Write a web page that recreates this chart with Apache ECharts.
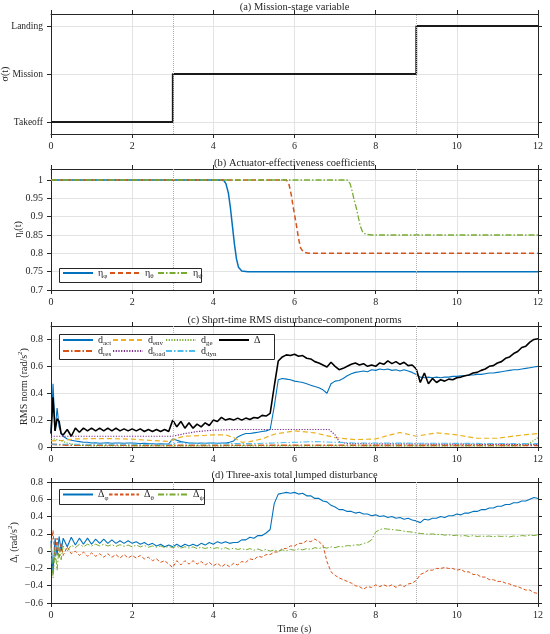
<!DOCTYPE html>
<html>
<head>
<meta charset="utf-8">
<script src="https://cdn.jsdelivr.net/npm/echarts@6/dist/echarts.min.js"></script>
<style>
html, body { margin: 0; padding: 0; background: #fff; }
#chart { width: 550px; height: 634px; }
</style>
</head>
<body>
<div id="chart"></div>
<script>
// ---- (a) mission stage ----
var stageEdges = [0, 3, 9, 12];
var stageLevel = [0, 1, 2, 2];
var stageNames = ['Takeoff', 'Mission', 'Landing'];

// ---- (b) actuator effectiveness [t, eta] ----
var etaPhi = [[0, 1], [4.25, 1], [4.31, 0.99], [4.37, 0.965], [4.42, 0.925], [4.47, 0.875], [4.52, 0.825], [4.57, 0.785], [4.62, 0.762], [4.7, 0.752], [4.85, 0.75], [12, 0.75]];
var etaTheta = [[0, 1], [5.8, 1], [5.86, 0.99], [5.92, 0.96], [5.97, 0.925], [6.01, 0.9], [6.05, 0.875], [6.1, 0.84], [6.15, 0.815], [6.22, 0.803], [6.35, 0.8], [12, 0.8]];
var etaPsi = [[0, 1], [7.3, 1], [7.37, 0.99], [7.42, 0.97], [7.47, 0.945], [7.52, 0.925], [7.57, 0.9], [7.62, 0.875], [7.67, 0.86], [7.75, 0.852], [7.9, 0.85], [12, 0.85]];

// sample times of the noisy traces: 0..0.25 every 0.05, then every 0.1 up to 12
var tSamp = [0, 0.05, 0.1, 0.15, 0.2, 0.25];
for (var k = 3; k <= 120; k++) tSamp.push(k / 10);

// ---- (c) short-time RMS norms ----
var rmsTotal = [
  0.10, 0.37, 0.12, 0.21, 0.19, 0.10,
  0.09, 0.13, 0.08, 0.14, 0.11, 0.14, 0.12,
  0.14, 0.12, 0.14, 0.12, 0.14, 0.12, 0.14, 0.12, 0.135, 0.12,
  0.135, 0.12, 0.135, 0.115, 0.13, 0.115, 0.13, 0.115, 0.13, 0.115,
  0.20, 0.15, 0.19, 0.14, 0.18, 0.14, 0.17, 0.15, 0.18, 0.16,
  0.20, 0.19, 0.22, 0.20, 0.21, 0.20, 0.215, 0.20, 0.215, 0.205,
  0.22, 0.215, 0.235, 0.23, 0.25, 0.45, 0.64, 0.67, 0.685, 0.68,
  0.69, 0.675, 0.68, 0.66, 0.655, 0.635, 0.625, 0.61, 0.595, 0.63,
  0.60, 0.575, 0.585, 0.60, 0.615, 0.625, 0.61, 0.62, 0.60, 0.61,
  0.60, 0.625, 0.615, 0.64, 0.62, 0.635, 0.615, 0.63, 0.605, 0.61,
  0.58, 0.48, 0.55, 0.47, 0.51, 0.48, 0.50, 0.49, 0.505, 0.50,
  0.515, 0.52, 0.53, 0.535, 0.55, 0.555, 0.57, 0.58, 0.60, 0.605,
  0.625, 0.635, 0.66, 0.67, 0.695, 0.71, 0.74, 0.75, 0.78, 0.80,
  0.805
];
var rmsAct = [
  0.10, 0.47, 0.12, 0.29, 0.15, 0.10,
  0.08, 0.06, 0.05, 0.045, 0.04, 0.035, 0.035,
  0.03, 0.032, 0.028, 0.03, 0.032, 0.028, 0.03, 0.03, 0.028, 0.03,
  0.03, 0.028, 0.026, 0.028, 0.025, 0.024, 0.022, 0.024, 0.022, 0.024,
  0.06, 0.05, 0.04, 0.035, 0.03, 0.03, 0.028, 0.03, 0.028, 0.03,
  0.03, 0.028, 0.03, 0.03, 0.035, 0.045, 0.075, 0.09, 0.10, 0.10,
  0.105, 0.11, 0.115, 0.12, 0.13, 0.30, 0.50, 0.51, 0.505, 0.50,
  0.49, 0.485, 0.48, 0.47, 0.46, 0.45, 0.44, 0.425, 0.40, 0.47,
  0.49, 0.495, 0.51, 0.53, 0.545, 0.555, 0.56, 0.565, 0.56, 0.575,
  0.57, 0.58, 0.575, 0.58, 0.57, 0.575, 0.565, 0.575, 0.565, 0.555,
  0.54, 0.52, 0.515, 0.52, 0.515, 0.52, 0.515, 0.52, 0.52, 0.525,
  0.525, 0.53, 0.53, 0.535, 0.535, 0.54, 0.54, 0.545, 0.55, 0.55,
  0.555, 0.56, 0.565, 0.57, 0.575, 0.575, 0.58, 0.585, 0.59, 0.595,
  0.60
];
var rmsEnv = [[0, 0.045], [0.3, 0.05], [0.6, 0.06], [1, 0.062], [1.5, 0.062], [2, 0.058], [2.5, 0.048], [2.9, 0.042], [3.1, 0.065], [3.3, 0.08], [3.7, 0.085], [4, 0.09], [4.3, 0.09], [4.5, 0.07], [4.7, 0.035], [4.9, 0.04], [5.2, 0.06], [5.5, 0.095], [6, 0.12], [6.5, 0.105], [7, 0.07], [7.5, 0.055], [8, 0.06], [8.3, 0.085], [8.6, 0.108], [9, 0.08], [9.5, 0.105], [10, 0.09], [10.5, 0.065], [11, 0.065], [11.5, 0.085], [12, 0.1]];
var rmsGe = [[0, 0.065], [0.2, 0.05], [0.4, 0.03], [0.6, 0.015], [1, 0.008], [11.6, 0.008], [11.8, 0.03], [12, 0.07]];
var rmsRes = [[0, 0.02], [0.5, 0.013], [3, 0.012], [6, 0.013], [9, 0.012], [12, 0.012]];
var rmsLoad = [[0, 0.08], [3, 0.08], [3.3, 0.1], [3.6, 0.115], [4, 0.125], [4.5, 0.13], [6.85, 0.13], [7, 0.09], [7.1, 0.04], [7.3, 0.025], [12, 0.018]];
var rmsDyn = [[0, 0.02], [3, 0.02], [3.1, 0.035], [3.4, 0.025], [5, 0.025], [5.5, 0.03], [6.5, 0.04], [7, 0.035], [7.5, 0.03], [12, 0.025]];

// ---- (d) three-axis lumped disturbance ----
var dPhi = [
  0.12, -0.25, 0.15, -0.05, 0.17, 0.00,
  0.15, 0.05, 0.16, 0.07, 0.15, 0.08, 0.15,
  0.08, 0.14, 0.09, 0.14, 0.09, 0.13, 0.09, 0.12, 0.09, 0.12,
  0.09, 0.11, 0.08, 0.10, 0.07, 0.09, 0.06, 0.08, 0.05, 0.07,
  0.05, 0.08, 0.05, 0.08, 0.06, 0.08, 0.06, 0.09, 0.07, 0.10,
  0.08, 0.11, 0.09, 0.11, 0.09, 0.10, 0.10, 0.13, 0.13, 0.16,
  0.15, 0.18, 0.18, 0.21, 0.25, 0.55, 0.66, 0.67, 0.68, 0.67,
  0.68, 0.66, 0.67, 0.64, 0.64, 0.61, 0.61, 0.58, 0.57, 0.53,
  0.51, 0.48, 0.48, 0.46, 0.46, 0.44, 0.45, 0.43, 0.43, 0.41,
  0.42, 0.40, 0.41, 0.39, 0.40, 0.38, 0.39, 0.37, 0.38, 0.36,
  0.35, 0.33, 0.37, 0.36, 0.38, 0.38, 0.40, 0.39, 0.41, 0.41,
  0.43, 0.42, 0.44, 0.44, 0.46, 0.46, 0.48, 0.48, 0.50, 0.50,
  0.52, 0.52, 0.54, 0.54, 0.56, 0.56, 0.58, 0.58, 0.60, 0.62,
  0.61
];
var dTheta = [
  0.05, 0.24, -0.10, 0.15, -0.08, 0.10,
  -0.05, 0.05, -0.03, 0.00, -0.05, -0.01, -0.06,
  -0.02, -0.06, -0.03, -0.07, -0.03, -0.07, -0.04, -0.08, -0.04, -0.08,
  -0.05, -0.08, -0.05, -0.09, -0.07, -0.11, -0.09, -0.13, -0.11, -0.15,
  -0.19, -0.11, -0.16, -0.11, -0.15, -0.11, -0.15, -0.12, -0.16, -0.13,
  -0.17, -0.14, -0.18, -0.15, -0.18, -0.14, -0.16, -0.12, -0.13, -0.09,
  -0.10, -0.06, -0.07, -0.04, -0.04, -0.01, -0.01, 0.03, 0.03, 0.06,
  0.06, 0.09, 0.09, 0.12, 0.11, 0.14, 0.11, 0.07, -0.12, -0.24,
  -0.28, -0.31, -0.33, -0.35, -0.37, -0.40, -0.41, -0.44, -0.41, -0.42,
  -0.39, -0.41, -0.39, -0.41, -0.39, -0.42, -0.39, -0.41, -0.38, -0.37,
  -0.34, -0.27, -0.25, -0.22, -0.22, -0.20, -0.20, -0.19, -0.20, -0.20,
  -0.22, -0.21, -0.24, -0.24, -0.27, -0.27, -0.30, -0.30, -0.33, -0.33,
  -0.35, -0.35, -0.37, -0.38, -0.40, -0.41, -0.43, -0.45, -0.45, -0.48,
  -0.49
];
var dPsi = [
  0.05, -0.31, 0.02, -0.22, 0.05, -0.10,
  0.06, 0.00, 0.07, 0.04, 0.08, 0.05, 0.08,
  0.06, 0.08, 0.06, 0.08, 0.06, 0.075, 0.055, 0.075, 0.055, 0.07,
  0.05, 0.07, 0.05, 0.065, 0.045, 0.06, 0.045, 0.06, 0.04, 0.055,
  0.04, 0.055, 0.035, 0.05, 0.035, 0.05, 0.03, 0.045, 0.03, 0.045,
  0.03, 0.04, 0.025, 0.04, 0.02, 0.035, 0.02, 0.03, 0.015, 0.03,
  0.01, 0.025, 0.005, 0.02, 0.00, 0.015, 0.00, 0.015, 0.005, 0.02,
  0.01, 0.025, 0.015, 0.03, 0.02, 0.04, 0.03, 0.045, 0.035, 0.05,
  0.04, 0.055, 0.05, 0.065, 0.06, 0.075, 0.07, 0.09, 0.10, 0.13,
  0.22, 0.25, 0.26, 0.255, 0.25, 0.245, 0.24, 0.23, 0.225, 0.22,
  0.21, 0.205, 0.20, 0.195, 0.20, 0.19, 0.195, 0.185, 0.19, 0.18,
  0.185, 0.175, 0.18, 0.17, 0.18, 0.17, 0.175, 0.17, 0.175, 0.165,
  0.175, 0.17, 0.175, 0.165, 0.175, 0.17, 0.18, 0.175, 0.185, 0.18,
  0.19
];

var panelTitles = ['(a) Mission-stage variable', '(b) Actuator-effectiveness coefficients',
  '(c) Short-time RMS disturbance-component norms', '(d) Three-axis total lumped disturbance'];
var eventTimes = [3, 9];

var FONT = 'Liberation Serif';
var INK = '#262626';
var GRIDC = '#e3e3e3';
var C_BLUE = '#0072BD', C_RED = '#D95319', C_YEL = '#EDB120', C_PUR = '#7E2F8E', C_GRN = '#77AC30', C_CYN = '#4DBEEE';
var DASH = [5, 3], DASHDOT = [6, 2, 1.5, 2], DOT = [1.2, 1.5];

var grids = [
  { left: 51, width: 487, top: 14, height: 120 },
  { left: 51, width: 487, top: 169, height: 121 },
  { left: 51, width: 487, top: 326, height: 121 },
  { left: 51, width: 487, top: 482, height: 121 }
].map(function (g) {
  g.containLabel = false;
  g.outerBoundsMode = 'none';
  return g;
});

var rich = {
  m: { fontFamily: FONT, fontSize: 10, color: INK, lineHeight: 14 },
  s: { fontFamily: FONT, fontSize: 7, color: INK, lineHeight: 8, verticalAlign: 'bottom' },
  p: { fontFamily: FONT, fontSize: 7, color: INK, lineHeight: 8, verticalAlign: 'top' }
};

function pair(ts, vs) {
  return vs.map(function (v, i) { return [ts[i], v]; });
}
function num(v) {
  return String(parseFloat(v.toFixed(2))).replace('-', '\u2212');
}

// ticks point outward on all four sides (box with mirrored ticks)
var tickStyle = { show: true, inside: false, length: 4, lineStyle: { color: INK, width: 1 } };
var axisLineStyle = { show: true, onZero: false, lineStyle: { color: INK, width: 1 } };

function xAxes(i, name) {
  var bottom = {
    type: 'value', gridIndex: i, position: 'bottom', min: 0, max: 12, interval: 2,
    axisLine: axisLineStyle, axisTick: tickStyle,
    axisLabel: { color: INK, fontFamily: FONT, fontSize: 10, margin: 7 },
    splitLine: { show: true, lineStyle: { color: GRIDC, width: 1 } }
  };
  if (name) {
    bottom.name = name;
    bottom.nameLocation = 'middle';
    bottom.nameGap = 21;
    bottom.nameMoveOverlap = false;
    bottom.nameTextStyle = { color: INK, fontFamily: FONT, fontSize: 10 };
  }
  var top = {
    type: 'value', gridIndex: i, position: 'top', min: 0, max: 12, interval: 2,
    axisLine: axisLineStyle, axisTick: tickStyle, axisLabel: { show: false }, splitLine: { show: false }
  };
  return [bottom, top];
}

function yAxes(i, o) {
  var tick = Object.assign({}, tickStyle);
  if (o.custom) tick.customValues = o.custom;
  var label = { color: INK, fontFamily: FONT, fontSize: o.labelSize || 10, margin: 8, showMaxLabel: !o.hideMax, formatter: o.formatter || num };
  if (o.custom) label.customValues = o.custom;
  var left = {
    type: 'value', gridIndex: i, position: 'left', min: o.min, max: o.max,
    axisLine: axisLineStyle, axisTick: tick, axisLabel: label,
    splitLine: { show: true, showMaxLine: !o.hideMax, lineStyle: { color: GRIDC, width: 1 } },
    name: o.name, nameLocation: 'middle', nameGap: o.gap, nameRotate: 90, nameMoveOverlap: false,
    nameTextStyle: { color: INK, fontFamily: FONT, fontSize: 10, rich: rich }
  };
  var right = {
    type: 'value', gridIndex: i, position: 'right', min: o.min, max: o.max,
    axisLine: axisLineStyle, axisTick: tick, axisLabel: { show: false }, splitLine: { show: false }
  };
  if (o.interval) { left.interval = o.interval; right.interval = o.interval; }
  return [left, right];
}

function eventLines() {
  return {
    silent: true, symbol: ['none', 'none'], label: { show: false }, animation: false,
    lineStyle: { type: 'dotted', color: '#b0b0b0', width: 1 },
    data: eventTimes.map(function (x) { return { xAxis: x }; })
  };
}

function line(name, g, data, color, width, dash, z) {
  return {
    type: 'line', name: name, xAxisIndex: 2 * g, yAxisIndex: 2 * g, data: data,
    showSymbol: false, symbol: 'none', animation: false, z: z || 2,
    lineStyle: { color: color, width: width, type: dash || 'solid' },
    itemStyle: { color: color }
  };
}

var legendText = {
  etaPhi: '{m|\u03b7}{s|\u03c6}', etaTheta: '{m|\u03b7}{s|\u03b8}', etaPsi: '{m|\u03b7}{s|\u03c8}',
  dAct: '{m|d}{s|act}', dEnv: '{m|d}{s|env}', dGe: '{m|d}{s|ge}', dTot: '{m|\u0394}',
  dRes: '{m|d}{s|res}', dLoad: '{m|d}{s|load}', dDyn: '{m|d}{s|dyn}',
  dPhi: '{m|\u0394}{s|\u03c6}', dTheta: '{m|\u0394}{s|\u03b8}', dPsi: '{m|\u0394}{s|\u03c8}'
};
function legendAt(name, left, top) {
  return {
    data: [name], left: left, top: top, orient: 'horizontal', padding: 0,
    itemWidth: 30, itemHeight: 8, itemGap: 0, selectedMode: false, z: 20,
    itemStyle: { opacity: 0 },
    formatter: function (n) { return legendText[n]; },
    textStyle: { color: INK, fontFamily: FONT, fontSize: 10, rich: rich }
  };
}

var series = [];
var sa = line('stage', 0, stageEdges.map(function (x, i) { return [x, stageLevel[i]]; }), '#1a1a1a', 1.8);
sa.step = 'end';
sa.markLine = eventLines();
series.push(sa);

var sb = line('etaPhi', 1, etaPhi, C_BLUE, 1.5);
sb.markLine = eventLines();
series.push(sb);
series.push(line('etaTheta', 1, etaTheta, C_RED, 1.5, DASH));
series.push(line('etaPsi', 1, etaPsi, C_GRN, 1.3, DASHDOT));

var sc = line('dAct', 2, pair(tSamp, rmsAct), C_BLUE, 1.1);
sc.markLine = eventLines();
series.push(sc);
series.push(line('dRes', 2, rmsRes, C_RED, 1.6, DASHDOT));
series.push(line('dEnv', 2, rmsEnv, C_YEL, 1.2, DASH));
series.push(line('dLoad', 2, rmsLoad, C_PUR, 1.2, DOT));
series.push(line('dGe', 2, rmsGe, C_GRN, 1.2, DOT));
series.push(line('dDyn', 2, rmsDyn, C_CYN, 1.1, DASHDOT));
series.push(line('dTot', 2, pair(tSamp, rmsTotal), '#000000', 1.6, null, 3));

var sd = line('dPhi', 3, pair(tSamp, dPhi), C_BLUE, 1.1);
sd.markLine = eventLines();
series.push(sd);
series.push(line('dTheta', 3, pair(tSamp, dTheta), C_RED, 1, [3.5, 2]));
series.push(line('dPsi', 3, pair(tSamp, dPsi), C_GRN, 1, DASHDOT));

var titleTops = [7, 163, 320, 475];
var graphic = panelTitles.map(function (txt, i) {
  return {
    type: 'text', x: 294.5, y: titleTops[i], z: 30, silent: true,
    style: { text: txt, align: 'center', verticalAlign: 'middle', fill: INK, fontFamily: FONT, fontSize: 10.5 }
  };
});
[[59, 268, 142, 14], [59, 334, 215, 25], [59, 489, 145, 15]].forEach(function (b) {
  graphic.push({
    type: 'rect', z: 10, silent: true,
    shape: { x: b[0] + 0.5, y: b[1] + 0.5, width: b[2], height: b[3] },
    style: { fill: '#fff', stroke: INK, lineWidth: 1 }
  });
});

var option = {
  backgroundColor: '#fff',
  animation: false,
  grid: grids,
  xAxis: [].concat(xAxes(0), xAxes(1), xAxes(2), xAxes(3, 'Time (s)')),
  yAxis: [].concat(
    yAxes(0, { min: -0.25, max: 2.25, custom: [0, 1, 2], gap: 41, labelSize: 9.5, name: '\u03c3(t)',
      formatter: function (v) { return stageNames[Math.round(v)]; } }),
    yAxes(1, { min: 0.7, max: 1.03, interval: 0.05, gap: 26, hideMax: true, name: '{m|\u03b7}{s|i}{m|(t)}' }),
    yAxes(2, { min: 0, max: 0.9, interval: 0.2, gap: 20, hideMax: true, name: '{m|RMS norm (rad/s}{p|2}{m|)}' }),
    yAxes(3, { min: -0.6, max: 0.8, interval: 0.2, gap: 30, name: '{m|\u0394}{s|i}{m| (rad/s}{p|2}{m|)}' })
  ),
  legend: [
    legendAt('etaPhi', 62, 268), legendAt('etaTheta', 109, 268), legendAt('etaPsi', 157, 268),
    legendAt('dAct', 62, 335), legendAt('dEnv', 112, 335), legendAt('dGe', 165, 335), legendAt('dTot', 218, 335),
    legendAt('dRes', 62, 346), legendAt('dLoad', 112, 346), legendAt('dDyn', 165, 346),
    legendAt('dPhi', 62, 489.5), legendAt('dTheta', 108, 489.5), legendAt('dPsi', 157, 489.5)
  ],
  graphic: graphic,
  series: series
};

var chart = echarts.init(document.getElementById('chart'), null, { renderer: 'canvas' });
chart.setOption(option);
window.addEventListener('resize', chart.resize);
</script>
</body>
</html>
